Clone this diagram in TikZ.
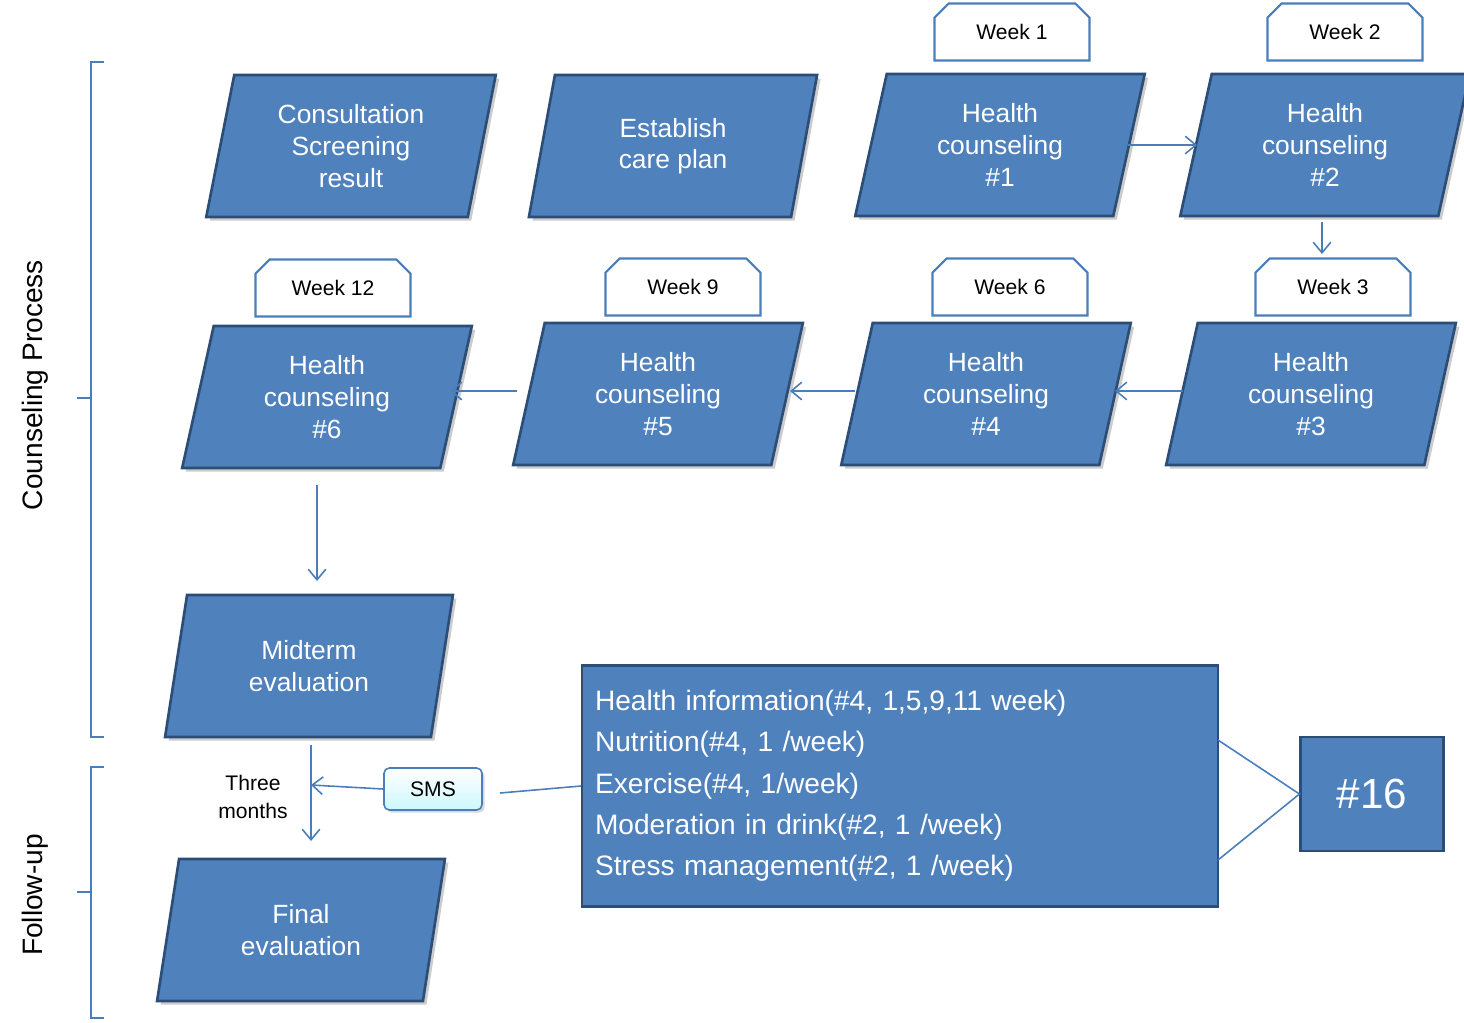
\documentclass[tikz,border=0pt]{standalone}
\usepackage{fontspec}
\setmainfont{Liberation Sans}
\usetikzlibrary{shapes.geometric,shapes.misc,arrows.meta,shadows}
\definecolor{bfill}{HTML}{4F81BD}
\definecolor{bdark}{HTML}{2C4D75}
\definecolor{lblue}{HTML}{4A7EBB}
\begin{document}
\begin{tikzpicture}[x=0.02cm,y=-0.02cm,
  para/.style={trapezium,trapezium left angle=78,trapezium right angle=102,
    trapezium stretches=true,minimum width=5.8cm,minimum height=2.84cm,
    fill=bfill,draw=bdark,line width=1.5pt,text=white,align=center,
    font=\fontsize{15}{18}\selectfont,inner sep=0pt,
    drop shadow={shadow xshift=2pt,shadow yshift=-2pt,opacity=0.4}},
  week/.style={chamfered rectangle,chamfered rectangle corners={north west,north east},
    chamfered rectangle xsep=4pt,chamfered rectangle ysep=4pt,
    minimum width=3.1cm,minimum height=1.14cm,fill=white,draw=lblue,line width=1.2pt,
    font=\fontsize{12}{14}\selectfont,inner sep=0pt},
  arr/.style={draw=lblue,line width=0.9pt,-{Straight Barb[length=6pt,width=10pt]}},
  ln/.style={draw=lblue,line width=0.9pt}]
\useasboundingbox (0,0) rectangle (1464,1022);
\node[para] (p1) at (351,146) {Consultation\\Screening\\result};
\node[para] (p2) at (673,146) {Establish\\care plan};
\node[para] (h1) at (1000,145) {Health\\counseling\\\#1};
\node[para] (h2) at (1325,145) {Health\\counseling\\\#2};
\node[para] (h6) at (327,397) {Health\\counseling\\\#6};
\node[para] (h5) at (658,394) {Health\\counseling\\\#5};
\node[para] (h4) at (986,394) {Health\\counseling\\\#4};
\node[para] (h3) at (1311,394) {Health\\counseling\\\#3};
\node[para] (mid) at (309,666) {Midterm\\evaluation};
\node[para] (fin) at (301,930) {Final\\evaluation};
\node[week] (w1) at (1012,32) {Week 1};
\node[week] (w2) at (1345,32) {Week 2};
\node[week] (w12) at (333,288) {Week 12};
\node[week] (w9) at (683,287) {Week 9};
\node[week] (w6) at (1010,287) {Week 6};
\node[week] (w3) at (1333,287) {Week 3};
\coordinate (a1) at (1128,145); \coordinate (a2) at (1197,145);
\draw[arr] (a1) -- (a2);
\coordinate (b1) at (1322,222); \coordinate (b2) at (1322,254);
\draw[arr] (b1) -- (b2);
\coordinate (c1) at (1183,391); \coordinate (c2) at (1115,391);
\draw[arr] (c1) -- (c2);
\coordinate (d1) at (855,391); \coordinate (d2) at (790,391);
\draw[arr] (d1) -- (d2);
\coordinate (e1) at (517,391); \coordinate (e2) at (450,391);
\draw[arr] (e1) -- (e2);
\coordinate (f1) at (317,485); \coordinate (f2) at (317,581);
\draw[arr] (f1) -- (f2);
\coordinate (g1) at (311,745); \coordinate (g2) at (311,841);
\draw[arr] (g1) -- (g2);
\node[rounded corners=3pt,draw=lblue,line width=0.9pt,top color=white,bottom color=blue!15!cyan!20,
  minimum width=1.96cm,minimum height=0.84cm,font=\fontsize{12}{14}\selectfont,
  drop shadow={shadow xshift=1.5pt,shadow yshift=-1.5pt,opacity=0.3}] (sms) at (433,789) {SMS};
\coordinate (s2) at (311,785);
\draw[arr] (sms.west) -- (s2);
\node[fill=bfill,draw=bdark,line width=1.2pt,minimum width=12.72cm,minimum height=4.82cm,
  text=white,align=left,font=\fontsize{16}{23.5}\selectfont,text width=12.2cm,inner sep=0pt]
  (info) at (900,786) {Health information(\#4, 1,5,9,11 week)\\Nutrition(\#4, 1 /week)\\Exercise(\#4, 1/week)\\Moderation in drink(\#2, 1 /week)\\Stress management(\#2, 1 /week)};
\coordinate (i1) at (500,793);
\draw[ln] (i1) -- (info.west);
\node[fill=bfill,draw=bdark,line width=1.2pt,minimum width=2.86cm,minimum height=2.28cm,
  text=white,font=\fontsize{24}{28}\selectfont] (n16) at (1372,794) {\#16};
\coordinate (t1) at (1218,740); \coordinate (t2) at (1218,860);
\draw[ln] (t1) -- (n16.west) -- (t2);
% brackets
\draw[ln] (104,62) -- (91,62) -- (91,737) -- (104,737);
\draw[ln] (91,398) -- (77,398);
\draw[ln] (104,767) -- (91,767) -- (91,1018) -- (104,1018);
\draw[ln] (91,892) -- (77,892);
\node[rotate=90,font=\fontsize{16}{18}\selectfont] (lab1) at (35,385) {Counseling Process};
\node[rotate=90,font=\fontsize{16}{18}\selectfont] (lab2) at (35,895) {Follow-up};
\node[align=center,font=\fontsize{12}{16}\selectfont] (tm) at (253,797) {Three\\months};
\end{tikzpicture}
\end{document}
